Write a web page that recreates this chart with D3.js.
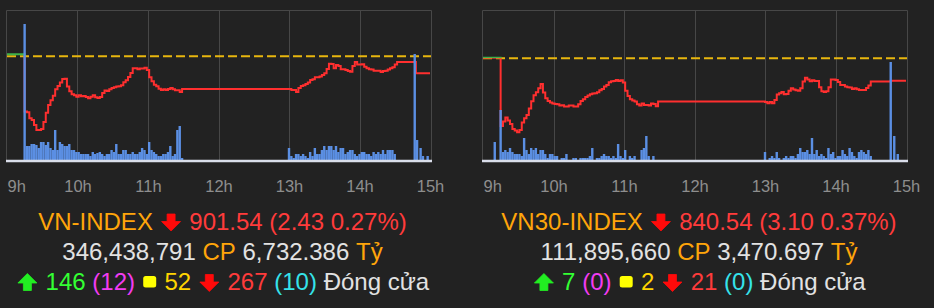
<!DOCTYPE html>
<html>
<head>
<meta charset="utf-8">
<script src="https://cdn.jsdelivr.net/npm/d3@7"></script>
<style>
  body { margin: 0; background: #222; }
  svg { display: block; background: #222; }
</style>
</head>
<body>
<svg width="934" height="308"></svg>
<script>
const hours = [9, 10, 11, 12, 13, 14, 15];

// VN-INDEX: price (points), every 2 minutes from the session start
const vnRef = 903.97;
const vnDomain = [889.16, 910.58];
const vnPreOpen = [["9:00", 904.26]];
const vnAM = [
  896.07, 895.97, 895.11, 894.88, 894.16, 893.45, 893.45, 893.59, 894.59, 895.92,
  897.02, 897.68, 898.35, 899.26, 899.73, 900.21, 900.73, 900.78, 899.64, 898.97,
  898.54, 898.40, 898.21, 898.40, 898.26, 898.30, 898.16, 897.97, 898.21, 898.40,
  898.11, 898.02, 898.16, 898.73, 899.07, 899.02, 899.26, 899.45, 899.54, 899.64,
  899.68, 899.83, 900.26, 900.54, 901.02, 901.59, 902.26, 902.26, 902.11, 902.21,
  902.21, 902.35, 902.02, 900.97, 900.40, 899.92, 899.68, 899.35, 899.16, 899.26,
  899.16, 899.30, 899.45, 899.26, 899.11, 899.11, 898.88, 899.30
];
const vnPM = [
  899.30, 899.16, 899.16, 898.88, 899.45, 899.73, 899.83, 900.02, 900.21, 900.59,
  900.68, 900.97, 900.97, 901.07, 901.30, 901.54, 902.16, 902.92, 902.87, 902.26,
  902.73, 902.59, 902.11, 902.11, 902.02, 901.87, 901.78, 902.59, 903.16, 902.78,
  902.78, 902.83, 902.49, 902.26, 902.11, 902.07, 901.92, 901.92, 901.92, 901.73,
  901.87, 901.92, 902.07, 902.26, 902.40, 902.78
];
const vnTail = [["14:32", 903.16], ["14:48", 901.54], ["15:00", 901.54]];
const vnVolAM = [
  136, 14, 14, 16, 16, 15, 12, 18, 18, 15,
  18, 12, 10, 30, 10, 18, 16, 14, 14, 16,
  10, 10, 8, 8, 6, 6, 6, 6, 4, 8,
  6, 7, 8, 6, 4, 6, 6, 10, 8, 16,
  6, 6, 10, 10, 6, 6, 8, 6, 6, 8,
  12, 10, 6, 18, 10, 8, 6, 4, 4, 6,
  6, 8, 14, 4, 6, 30, 34, 2
];
const vnVolPM = [
  12, 4, 2, 6, 6, 4, 6, 4, 2, 8,
  4, 12, 6, 6, 10, 14, 10, 14, 14, 10,
  14, 8, 12, 12, 6, 8, 10, 10, 6, 4,
  6, 8, 8, 6, 6, 4, 8, 6, 8, 6,
  10, 6, 10, 10, 10, 6
];
const vnVolATC = [["14:47", 106], ["14:49", 20], ["14:52", 12], ["14:54", 4], ["14:58", 4]];

// VN30-INDEX
const vn30Ref = 843.64;
const vn30Domain = [829.55, 850.33];
const vn30PreOpen = [["9:00", 843.70]];
const vn30AM = [
  834.27, 834.87, 835.43, 835.01, 834.55, 833.86, 833.63, 833.40, 833.72, 834.73,
  835.33, 835.80, 836.67, 837.69, 838.52, 838.93, 839.49, 840.09, 838.89, 838.10,
  837.73, 837.50, 837.36, 837.32, 837.27, 837.09, 837.13, 836.95, 836.95, 837.09,
  837.09, 836.95, 836.95, 837.27, 837.73, 837.96, 838.29, 838.47, 838.66, 838.75,
  838.80, 838.93, 839.21, 839.39, 839.72, 839.95, 840.32, 840.46, 840.50, 840.64,
  840.50, 840.59, 840.27, 839.16, 838.42, 837.96, 837.78, 837.64, 837.27, 837.09,
  837.36, 837.18, 837.18, 837.09, 837.36, 837.32, 837.00, 837.64
];
const vn30PM = [
  837.59, 837.41, 837.59, 837.41, 837.87, 838.61, 838.80, 838.98, 838.66, 838.70,
  839.16, 839.49, 839.30, 839.21, 839.16, 839.49, 840.41, 840.96, 840.69, 840.46,
  840.59, 840.50, 840.50, 839.63, 839.07, 838.98, 839.07, 839.63, 840.69, 840.69,
  840.64, 840.36, 839.95, 839.95, 839.72, 839.63, 839.58, 839.39, 839.49, 839.35,
  839.26, 839.26, 839.26, 839.53, 839.86, 840.41
];
const vn30Tail = [["14:47", 840.54], ["15:00", 840.54]];
const vn30VolPre = [["9:10", 18]];
const vn30VolAM = [
  50, 8, 10, 8, 12, 8, 6, 6, 6, 4,
  22, 10, 6, 12, 10, 12, 6, 10, 10, 6,
  2, 6, 6, 4, 4, 0, 2, 2, 6, 0,
  0, 2, 2, 0, 2, 2, 2, 2, 4, 12,
  0, 2, 2, 4, 6, 4, 4, 2, 4, 2,
  16, 4, 2, 10, 0, 4, 2, 4, 0, 0,
  10, 12, 24, 4, 0, 4
];
const vn30VolPM = [
  8, 0, 2, 4, 2, 8, 2, 0, 2, 4,
  2, 4, 4, 2, 6, 12, 8, 8, 10, 6,
  22, 6, 10, 4, 6, 4, 2, 12, 6, 8,
  2, 4, 4, 10, 6, 4, 12, 8, 4, 2,
  8, 10, 8, 6, 10, 4
];
const vn30VolATC = [["14:47", 98], ["14:50", 24], ["14:53", 6]];

// summary lines under each chart
const vnRows = [
  [["VN-INDEX", "orange"], ["down", "arrowRed"], ["901.54 (2.43 0.27%)", "red"]],
  [["346,438,791", "light"], ["CP", "orange"], ["6,732.386", "light"], ["Tỷ", "orange"]],
  [["up", "arrowGreen"], ["146", "green"], ["(12)", "magenta"], ["square", "yellow"], ["52", "gold"],
   ["down", "arrowRed"], ["267", "red"], ["(10)", "cyan"], ["Đóng cửa", "light"]]
];
const vn30Rows = [
  [["VN30-INDEX", "orange"], ["down", "arrowRed"], ["840.54 (3.10 0.37%)", "red"]],
  [["111,895,660", "light"], ["CP", "orange"], ["3,470.697", "light"], ["Tỷ", "orange"]],
  [["up", "arrowGreen"], ["7", "green"], ["(0)", "magenta"], ["square", "yellow"], ["2", "gold"],
   ["down", "arrowRed"], ["21", "red"], ["(0)", "cyan"], ["Đóng cửa", "light"]]
];

const colors = {
  orange: "#ffa50a", red: "#ff3b3b", arrowRed: "#ff0a0a", light: "#e2e2e2",
  green: "#33ff33", arrowGreen: "#22ee22", magenta: "#f23cf2", yellow: "#ffff00",
  gold: "#ffd400", cyan: "#35e3ea"
};
const fontFamily = '"Liberation Sans", Arial, Helvetica, sans-serif';

const toHour = s => { const [h, m] = s.split(":").map(Number); return h + m / 60; };
const fromStart = (start, values, step) => values.map((v, i) => ({ t: toHour(start) + i * step / 60, v }));
const fromPairs = pairs => pairs.map(([s, v]) => ({ t: toHour(s), v }));

const svg = d3.select("svg");
const defs = svg.append("defs");
const plotTop = 10, plotBottom = 160;

const charts = [
  {
    ref: vnRef, domain: vnDomain, x0: 7, x1: 430, frameL: 6, frameR: 432, center: 222.5, rows: vnRows,
    price: [...fromPairs(vnPreOpen), ...fromStart("9:15", vnAM, 2), ...fromStart("13:00", vnPM, 2), ...fromPairs(vnTail)],
    vol: [...fromStart("9:15", vnVolAM, 2), ...fromStart("13:00", vnVolPM, 2), ...fromPairs(vnVolATC)]
  },
  {
    ref: vn30Ref, domain: vn30Domain, x0: 483, x1: 906, frameL: 482, frameR: 908, center: 699, rows: vn30Rows,
    price: [...fromPairs(vn30PreOpen), ...fromStart("9:15", vn30AM, 2), ...fromStart("13:00", vn30PM, 2), ...fromPairs(vn30Tail)],
    vol: [...fromPairs(vn30VolPre), ...fromStart("9:15", vn30VolAM, 2), ...fromStart("13:00", vn30VolPM, 2), ...fromPairs(vn30VolATC)]
  }
];

function drawRow(pieces, cx, base) {
  const row = svg.append("g")
    .attr("font-family", fontFamily)
    .attr("font-size", "24px");
  let pos = 0;
  pieces.forEach(([txt, col], k) => {
    if (k > 0) pos += 6.7;
    const fill = colors[col];
    if (txt === "down" || txt === "up") {
      pos += 1.5;
      const p = row.append("path")
        .attr("d", "M6,0H14V7.5H19.5L10,17L0.5,7.5H6Z")
        .attr("fill", fill).attr("stroke", fill).attr("stroke-linejoin", "round").attr("stroke-width", 0.8);
      if (txt === "down") p.attr("transform", `translate(${pos},-15.5)`);
      else p.attr("transform", `translate(${pos},0.5) scale(1,-1)`);
      pos += 20 + 1.5;
    } else if (txt === "square") {
      pos += 1.5;
      row.append("rect")
        .attr("x", pos).attr("y", -14).attr("width", 13).attr("height", 11.5).attr("rx", 2.5)
        .attr("fill", fill);
      pos += 13 + 1.5;
    } else {
      const t = row.append("text").attr("x", pos).attr("y", 0).attr("fill", fill).text(txt);
      pos += t.node().getComputedTextLength();
    }
  });
  row.attr("transform", `translate(${cx - pos / 2},${base})`);
}

charts.forEach((c, i) => {
  const x = d3.scaleLinear().domain([9, 15]).range([c.x0, c.x1]);
  const y = d3.scaleLinear().domain(c.domain).range([plotBottom, plotTop]);
  const yVol = d3.scaleLinear().domain([0, 150]).range([plotBottom, plotTop]);
  const g = svg.append("g");

  // grid lines at inner hours
  g.selectAll("line.grid")
    .data(hours.slice(1, -1))
    .join("line")
    .attr("class", "grid")
    .attr("x1", d => Math.round(x(d)) + 0.5)
    .attr("x2", d => Math.round(x(d)) + 0.5)
    .attr("y1", plotTop)
    .attr("y2", plotBottom)
    .attr("stroke", "#474747");

  // frame (no bottom edge)
  g.append("path")
    .attr("d", `M${c.frameL + 0.5},${plotBottom}V${plotTop + 0.5}H${c.frameR - 0.5}V${plotBottom}`)
    .attr("fill", "none")
    .attr("stroke", "#474747");

  // reference line
  const yRef = y(c.ref);
  g.append("line")
    .attr("x1", c.frameL + 1).attr("x2", c.frameR - 1)
    .attr("y1", yRef).attr("y2", yRef)
    .attr("stroke", "#e8b60e")
    .attr("stroke-width", 2)
    .attr("stroke-dasharray", "9,4");

  // price line, green above the reference, red below
  defs.append("clipPath").attr("id", "above" + i)
    .append("rect").attr("x", c.frameL).attr("y", 0).attr("width", c.frameR - c.frameL).attr("height", yRef);
  defs.append("clipPath").attr("id", "below" + i)
    .append("rect").attr("x", c.frameL).attr("y", yRef).attr("width", c.frameR - c.frameL).attr("height", plotBottom - yRef);

  const line = d3.line().x(d => x(d.t)).y(d => y(d.v)).curve(d3.curveStepAfter);
  g.append("path").datum(c.price)
    .attr("d", line).attr("fill", "none")
    .attr("stroke", "#3fb34a").attr("stroke-width", 2)
    .attr("clip-path", `url(#above${i})`);
  g.append("path").datum(c.price)
    .attr("d", line).attr("fill", "none")
    .attr("stroke", "#ff2f2f").attr("stroke-width", 2)
    .attr("clip-path", `url(#below${i})`);

  // volume bars
  g.selectAll("rect.vol")
    .data(c.vol.filter(d => d.v > 0))
    .join("rect")
    .attr("class", "vol")
    .attr("x", d => x(d.t) - 1.2)
    .attr("width", 2.4)
    .attr("y", d => yVol(d.v))
    .attr("height", d => plotBottom - yVol(d.v))
    .attr("fill", "#5b8fe3");

  // baseline
  g.append("line")
    .attr("x1", c.frameL).attr("x2", c.frameR)
    .attr("y1", plotBottom + 1).attr("y2", plotBottom + 1)
    .attr("stroke", "#dadeea").attr("stroke-width", 2.5);

  // hour axis
  const axis = g.append("g")
    .attr("transform", "translate(0,175)")
    .call(d3.axisBottom(x).tickValues(hours).tickFormat(d => d + "h").tickSize(0));
  axis.select(".domain").remove();
  axis.selectAll("text")
    .attr("y", 16.5).attr("dy", null)
    .attr("fill", "#8e8e8e")
    .attr("font-size", "16.5px")
    .attr("font-family", fontFamily)
    .attr("text-anchor", (d, k) => k === 0 ? "start" : "middle");

  // summary rows
  [229.5, 260, 290].forEach((base, r) => drawRow(c.rows[r], c.center, base));
});
</script>
</body>
</html>
